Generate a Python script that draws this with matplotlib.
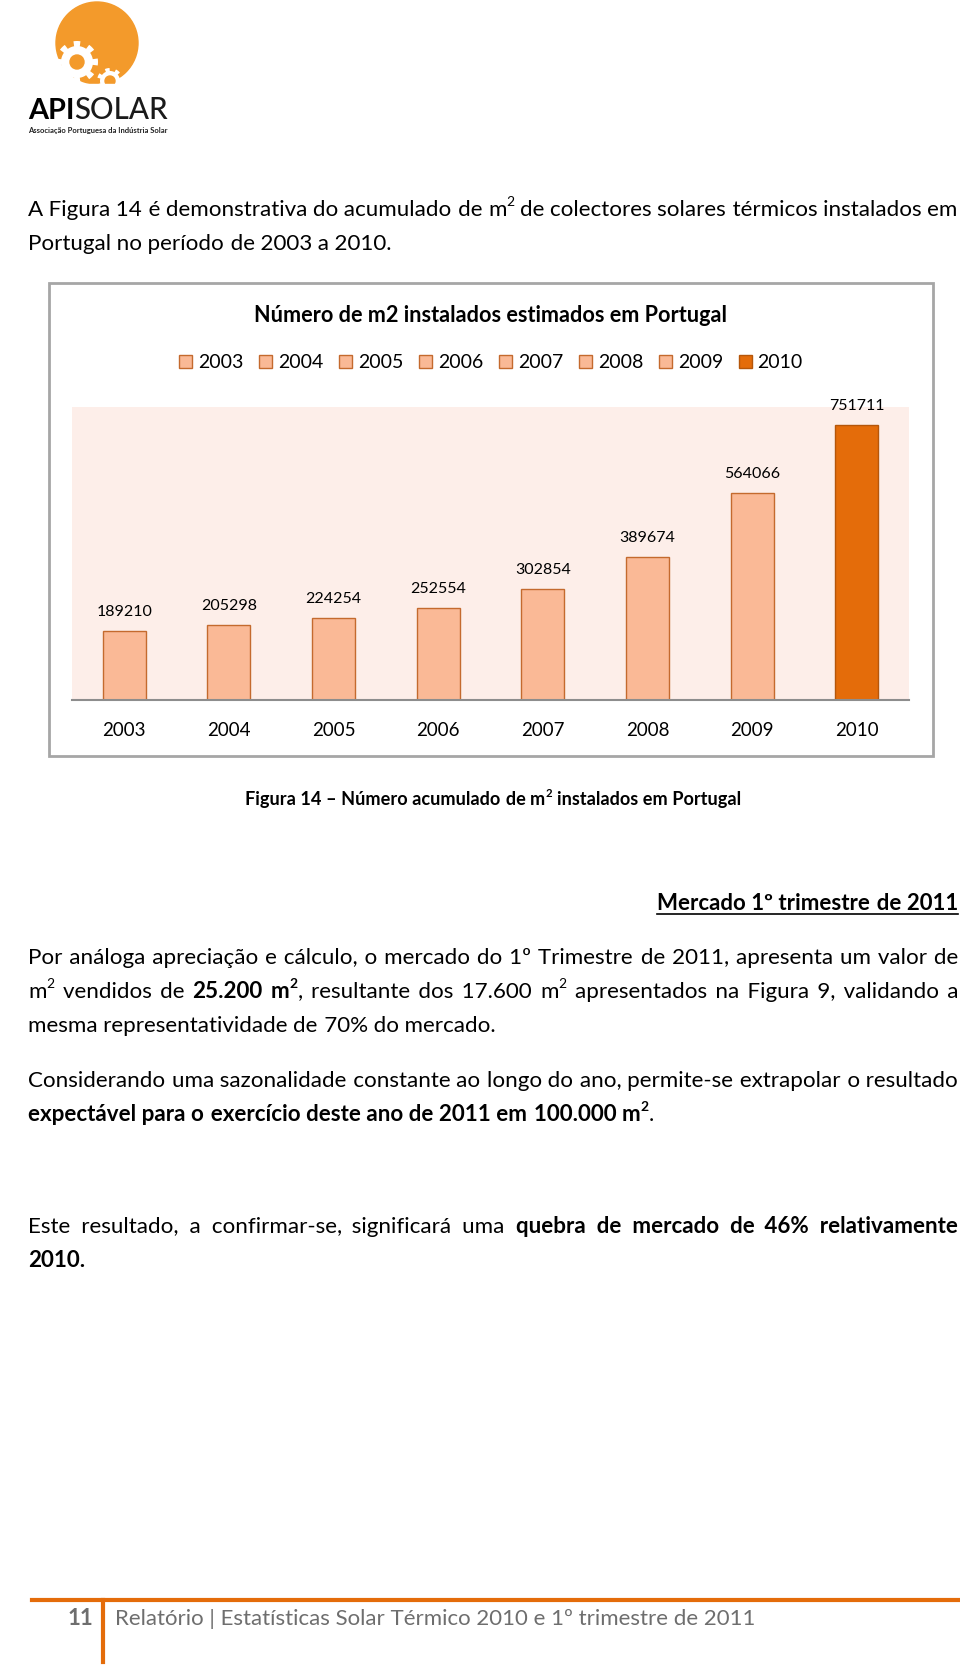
import numpy as np
import matplotlib
matplotlib.use('Agg')
import matplotlib.pyplot as plt
from matplotlib.patches import Rectangle, Circle

# data
years = ['2003', '2004', '2005', '2006', '2007', '2008', '2009', '2010']
m2_installed = [189210, 205298, 224254, 252554, 302854, 389674, 564066, 751711]
bar_colors = ['#FAB996'] * 7 + ['#E46C0A']
edge_colors = ['#C46A2E'] * 7 + ['#B5560A']

FONT = ['Lato', 'DejaVu Sans']
plt.rcParams['font.family'] = FONT

W, H = 960, 1667
PT = 100 / 72  # px per point
fig = plt.figure(figsize=(W / 100, H / 100), dpi=100)
page = fig.add_axes([0, 0, 1, 1])
page.set_xlim(0, W)
page.set_ylim(H, 0)
page.axis('off')
R = fig.canvas.get_renderer()

L, RM = 28, 958  # text margins
HAIR = '\u200a'


def px_box(left, top, right, bottom):
    return [left / W, 1 - bottom / H, (right - left) / W, (bottom - top) / H]


def text_w(s, size, weight='normal'):
    t = page.text(0, 0, s, fontsize=size, fontweight=weight)
    w = t.get_window_extent(R).width
    t.remove()
    return w


def fit(s, width, weight='normal'):
    return 10 * width / text_w(s, 10, weight)


STY = {'n': ('normal', 1.0, 0), 'b': ('bold', 1.0, 0),
       's': ('normal', 0.62, 0.45), 'bs': ('bold', 0.62, 0.45)}


def words_of(runs):
    words = [[]]
    for s, st in runs:
        for i, p in enumerate(s.split(' ')):
            if i > 0:
                words.append([])
            if p:
                words[-1].append((p, st))
    return [w for w in words if w]


def put(x, y, s, st, size, color):
    wt, k, rise = STY[st]
    page.text(x, y - rise * size * PT, s, fontsize=size * k,
              fontweight=wt, color=color, va='baseline')


def draw_line(runs, y, size, mode='left', x0=L, x1=RM, color='black'):
    words = words_of(runs)
    ws = [sum(text_w(s, size * STY[st][1], STY[st][0]) for s, st in wd)
          for wd in words]
    if mode == 'justify':
        gap = (x1 - x0 - sum(ws)) / (len(words) - 1)
    else:
        gap = text_w('a a', size) - text_w('aa', size)
    total = sum(ws) + gap * (len(words) - 1)
    x = {'left': x0, 'justify': x0, 'right': x1 - total,
         'center': (x0 + x1) / 2 - total / 2}[mode]
    start = x
    xs = []
    for w in ws:
        xs.append(x)
        x += w + gap

    # consecutive words of one style go into one text, gaps filled with hair spaces
    i = 0
    while i < len(words):
        wd = words[i]
        if len(wd) > 1:
            cx = xs[i]
            for s, st in wd:
                put(cx, y, s, st, size, color)
                cx += text_w(s, size * STY[st][1], STY[st][0])
            i += 1
            continue
        s, st = wd[0]
        wt, k, _ = STY[st]
        hw = text_w('a' + HAIR + 'a', size * k, wt) - text_w('aa', size * k, wt)
        j = i + 1
        while j < len(words) and len(words[j]) == 1 and words[j][0][1] == st:
            need = xs[j] - (xs[i] + text_w(s, size * k, wt))
            s += HAIR * max(1, int(round(need / hw)))
            s += words[j][0][0]
            j += 1
        put(xs[i], y, s, st, size, color)
        i = j
    return start, start + total


# ---- logo ----
page.add_patch(Circle((97, 43), 41, color='#F39A2B'))


def gear(cx, cy, r_out, r_in, n, hole):
    th = np.linspace(0, 2 * np.pi, 600)
    r = np.where(np.cos(n * th) > 0.2, r_out, r_in)
    page.fill(cx + r * np.cos(th), cy + r * np.sin(th), color='white', lw=0)
    page.add_patch(Circle((cx, cy), hole, color='#F39A2B'))


gear(77, 62, 21, 16, 8, 7)
gear(110, 81, 13, 10, 7, 5)
page.add_patch(Rectangle((60, 84), 80, 10, color='white'))
sz = fit('APISOLAR', 139, 'bold')
wa = text_w('API', sz, 'bold')
page.text(28, 119, 'API', fontsize=sz, fontweight='bold', va='baseline')
page.text(28 + wa, 119, 'SOLAR', fontsize=sz * 1.02, fontweight='medium',
          va='baseline', color='#1a1a1a')
page.text(28, 133, 'Associação Portuguesa da Indústria Solar',
          fontsize=fit('Associação Portuguesa da Indústria Solar', 140, 'bold'),
          fontweight='bold', va='baseline', color='#222222')

# ---- body text ----
body = fit('mesma representatividade de 70% do mercado.', 468)

draw_line([('A Figura 14 é demonstrativa do acumulado de m', 'n'), ('2', 's'),
           (' de colectores solares térmicos instalados em', 'n')], 216, body, 'justify')
draw_line([('Portugal no período de 2003 a 2010.', 'n')], 250, body)

# ---- chart frame ----
page.add_patch(Rectangle((49, 283), 884, 473, fill=False, ec='#A6A6A6', lw=2))
tsz = fit('Número de m2 instalados estimados em Portugal', 472, 'bold')
page.text(491, 315, 'Número de m2 instalados estimados em Portugal',
          fontsize=tsz, fontweight='bold', ha='center', va='center')

ax = fig.add_axes(px_box(72, 407, 909, 700))
ax.set_facecolor('#FDEEE9')
x = np.arange(len(years))
for i in range(len(years)):
    ax.bar(x[i], m2_installed[i], width=0.41, color=bar_colors[i],
           edgecolor=edge_colors[i], linewidth=1, label=years[i])
    ax.annotate(str(m2_installed[i]), (x[i], m2_installed[i]),
                xytext=(0, 19), textcoords='offset pixels',
                ha='center', va='center', fontsize=11.5)
ax.set_xlim(-0.5, 7.5)
ax.set_ylim(0, 800000)
ax.set_yticks([])
ax.set_xticks(x, years, fontsize=13.5)
ax.tick_params(axis='x', length=0, pad=15.5)
for s in ['top', 'left', 'right']:
    ax.spines[s].set_visible(False)
ax.spines['bottom'].set_color('#8D8D8D')
ax.spines['bottom'].set_linewidth(1.5)

h, lb = ax.get_legend_handles_labels()
fig.legend(h, lb, loc='center', bbox_to_anchor=(491 / W, 1 - 363 / H), ncol=8,
           frameon=False, fontsize=14, handlelength=0.68, handleheight=0.68,
           handletextpad=0.3, columnspacing=0.8)

# ---- caption ----
csz = fit('Figura 14 – Número acumulado de m2 instalados em Portugal', 499, 'bold')
draw_line([('Figura 14 – Número acumulado de m', 'b'), ('2', 'bs'),
           (' instalados em Portugal', 'b')], 805, csz, 'center', 0, 986)

# ---- market section ----
hsz = fit('Mercado 1º trimestre de 2011', 300, 'bold')
a, b = draw_line([('Mercado 1º trimestre de 2011', 'b')], 910, hsz, 'right')
page.plot([a, b], [914, 914], color='black', lw=1.2)

draw_line([('Por análoga apreciação e cálculo, o mercado do 1º Trimestre de 2011, apresenta um valor de', 'n')],
          964, body, 'justify')
draw_line([('m', 'n'), ('2', 's'), (' vendidos de ', 'n'), ('25.200 m', 'b'), ('2', 'bs'),
           (', resultante dos 17.600 m', 'n'), ('2', 's'),
           (' apresentados na Figura 9, validando a', 'n')], 998, body, 'justify')
draw_line([('mesma representatividade de 70% do mercado.', 'n')], 1032, body)

draw_line([('Considerando uma sazonalidade constante ao longo do ano, permite-se extrapolar o resultado', 'n')],
          1087, body, 'justify')
draw_line([('expectável para o exercício deste ano de 2011 em 100.000 m', 'b'), ('2', 'bs'), ('.', 'n')],
          1121, body)

draw_line([('Este resultado, a confirmar-se, significará uma ', 'n'),
           ('quebra de mercado de 46% relativamente', 'b')], 1233, body, 'justify')
draw_line([('2010.', 'b')], 1267, body)

# ---- footer ----
page.plot([32, 960], [1600, 1600], color='#E46C0A', lw=3)
page.plot([103, 103], [1600, 1662], color='#E46C0A', lw=3)
fsz = fit('Relatório | Estatísticas Solar Térmico 2010 e 1º trimestre de 2011', 641)
page.text(93, 1625, '11', fontsize=fsz, fontweight='bold', color='#6E6E6E',
          ha='right', va='baseline')
page.text(115, 1625, 'Relatório | Estatísticas Solar Térmico 2010 e 1º trimestre de 2011',
          fontsize=fsz, color='#6E6E6E', va='baseline')

fig.savefig('out.png', dpi=100)
